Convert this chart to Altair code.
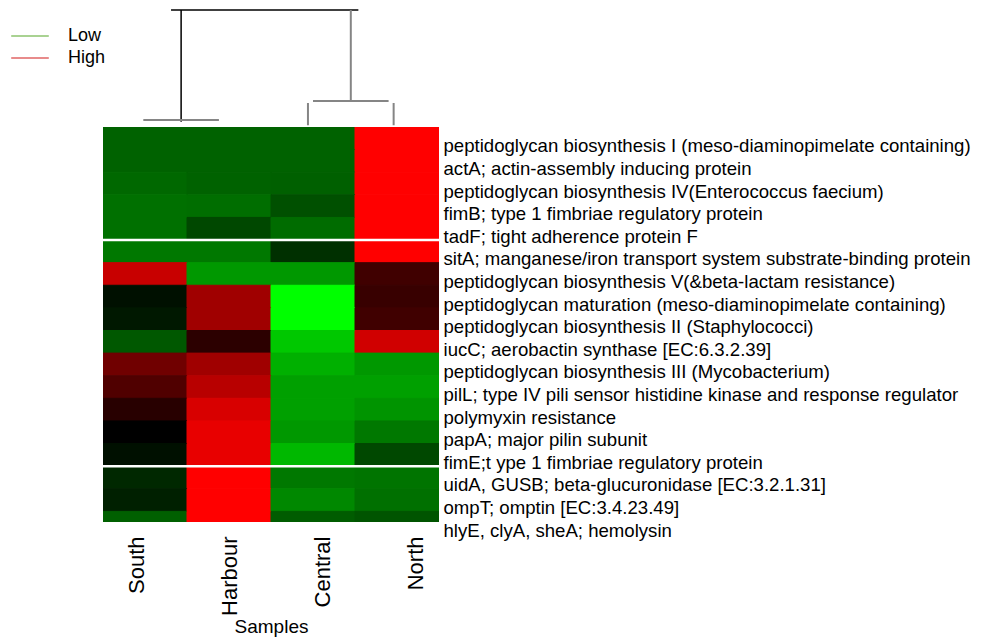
import altair as alt
import pandas as pd

FONT = "Liberation Sans"

samples = ["South", "Harbour", "Central", "North"]

genes = [
    "peptidoglycan biosynthesis I (meso-diaminopimelate containing)",
    "actA; actin-assembly inducing protein",
    "peptidoglycan biosynthesis IV(Enterococcus faecium)",
    "fimB; type 1 fimbriae regulatory protein",
    "tadF; tight adherence protein F",
    "sitA; manganese/iron transport system substrate-binding protein",
    "peptidoglycan biosynthesis V(&beta-lactam resistance)",
    "peptidoglycan maturation (meso-diaminopimelate containing)",
    "peptidoglycan biosynthesis II (Staphylococci)",
    "iucC; aerobactin synthase [EC:6.3.2.39]",
    "peptidoglycan biosynthesis III (Mycobacterium)",
    "pilL; type IV pili sensor histidine kinase and response regulator",
    "polymyxin resistance",
    "papA; major pilin subunit",
    "fimE;t ype 1 fimbriae regulatory protein",
    "uidA, GUSB; beta-glucuronidase [EC:3.2.1.31]",
    "ompT; omptin [EC:3.4.23.49]",
    "hlyE, clyA, sheA; hemolysin",
]

# signed intensity: negative = green (low), positive = red (high)
south   = [-98, -98, -104, -112, -112, -120, 200, -16, -24, -88, 112, 80, 40, 0, -16, -40, -32, -96]
harbour = [-98, -98, -98, -110, -72, -120, -152, 160, 160, 44, 160, 184, 216, 232, 232, 255, 255, 255]
central = [-98, -98, -96, -80, -108, -48, -152, -255, -255, -200, -176, -160, -160, -152, -184, -120, -136, -92]
north   = [255, 255, 255, 255, 255, 255, 64, 56, 64, 208, -152, -160, -148, -120, -72, -116, -112, -84]

# rows that start a new cluster block (white separators)
separator_rows = [5, 15]

levels = ["Low", "High"]

# dendrogram segments (x in sample-column units, y = merge height)
dend_main_x  = [0.81, 0.93]
dend_main_x2 = [3.04, 0.93]
dend_main_y  = [10.0, 10.0]
dend_main_y2 = [10.0, 0.45]

dend_sub_x  = [2.95, 2.50, 2.44, 3.46, 0.48]
dend_sub_x2 = [2.95, 3.40, 2.44, 3.46, 1.38]
dend_sub_y  = [10.0, 2.22, 2.05, 2.05, 0.60]
dend_sub_y2 = [2.22, 2.22, 0.15, 0.15, 0.60]

# ---------------------------------------------------------------- tables
rows = []
for gi, g in enumerate(genes):
    for s, vals in zip(samples, [south, harbour, central, north]):
        rows.append({"gene": g, "sample": s, "value": vals[gi]})
heat_df = pd.DataFrame(rows)
sep_df = pd.DataFrame({"gene": [genes[i] for i in separator_rows]})
main_df = pd.DataFrame({"x": dend_main_x, "x2": dend_main_x2, "y": dend_main_y, "y2": dend_main_y2})
sub_df = pd.DataFrame({"x": dend_sub_x, "x2": dend_sub_x2, "y": dend_sub_y, "y2": dend_sub_y2})
legend_df = pd.DataFrame({"level": levels})

W = 336
H = 395

# ---------------------------------------------------------------- dendrogram + legend
dx = alt.Scale(domain=[0, 4])
dy = alt.Scale(domain=[0, 9.74])

main_seg = alt.Chart(main_df).mark_rule(color="black", strokeWidth=1.5).encode(
    x=alt.X("x:Q", scale=dx, axis=None), x2="x2:Q",
    y=alt.Y("y:Q", scale=dy, axis=None), y2="y2:Q",
)
sub_seg = alt.Chart(sub_df).mark_rule(color="#858585", strokeWidth=2).encode(
    x=alt.X("x:Q", scale=dx, axis=None), x2="x2:Q",
    y=alt.Y("y:Q", scale=dy, axis=None), y2="y2:Q",
)
legend_layer = alt.Chart(legend_df).mark_line().encode(
    x=alt.value(0),
    y=alt.value(0),
    stroke=alt.Stroke(
        "level:N",
        scale=alt.Scale(domain=levels, range=["#8cc36e", "#e06464"]),
        legend=alt.Legend(
            title=None, orient="none", legendX=-82, legendY=14,
            symbolType="M-2.35,0H2.35", symbolSize=256, symbolStrokeWidth=1.5,
            symbolOpacity=1, labelFontSize=18, labelFont=FONT, labelColor="black",
            labelOffset=29, rowPadding=4, padding=0,
        ),
    ),
)
top = alt.layer(main_seg, sub_seg, legend_layer).properties(width=W, height=114)

# ---------------------------------------------------------------- heatmap
yscale = alt.Scale(domain=genes, range=[0, 407], paddingInner=0, paddingOuter=0)
cscale = alt.Scale(domain=[-255, 0, 255], range=["#00ff00", "#000000", "#ff0000"], interpolate="rgb")

heat = alt.Chart(heat_df).mark_rect(clip=True, strokeWidth=1).encode(
    x=alt.X(
        "sample:N", sort=samples,
        scale=alt.Scale(domain=samples, paddingInner=0, paddingOuter=0),
        axis=alt.Axis(
            title="Samples", labelAngle=270, labelAlign="right", labelBaseline="middle",
            labelFontSize=22, labelFont=FONT, labelColor="black", labelPadding=14,
            labelOffset={"expr": "-8 + 27 * datum.index"},
            ticks=False, domain=False, titleFontSize=19, titleFont=FONT,
            titleFontWeight="normal", titleColor="black", titlePadding=2,
        ),
    ),
    y=alt.Y(
        "gene:N", sort=genes, scale=yscale,
        axis=alt.Axis(
            orient="right", title=None, ticks=False, domain=False,
            labelFontSize=18.6, labelFont=FONT, labelColor="black",
            labelPadding=4, labelOffset=8, labelAlign="left", labelLimit=0,
        ),
    ),
    color=alt.Color("value:Q", scale=cscale, legend=None),
    stroke=alt.Stroke("value:Q", scale=cscale, legend=None),
)
seps = alt.Chart(sep_df).mark_rule(color="white", strokeWidth=2.5).encode(
    y=alt.Y("gene:N", sort=genes, scale=yscale, bandPosition=0),
)
bottom = alt.layer(heat, seps).properties(width=W, height=H)

chart = (
    alt.vconcat(top, bottom, spacing=0)
    .properties(padding={"left": 13, "top": 0, "right": 5, "bottom": 5})
    .configure(font=FONT)
    .configure_view(stroke="transparent", strokeWidth=0)
)

chart.save("out.html", embed_options={"renderer": "svg", "actions": False})
